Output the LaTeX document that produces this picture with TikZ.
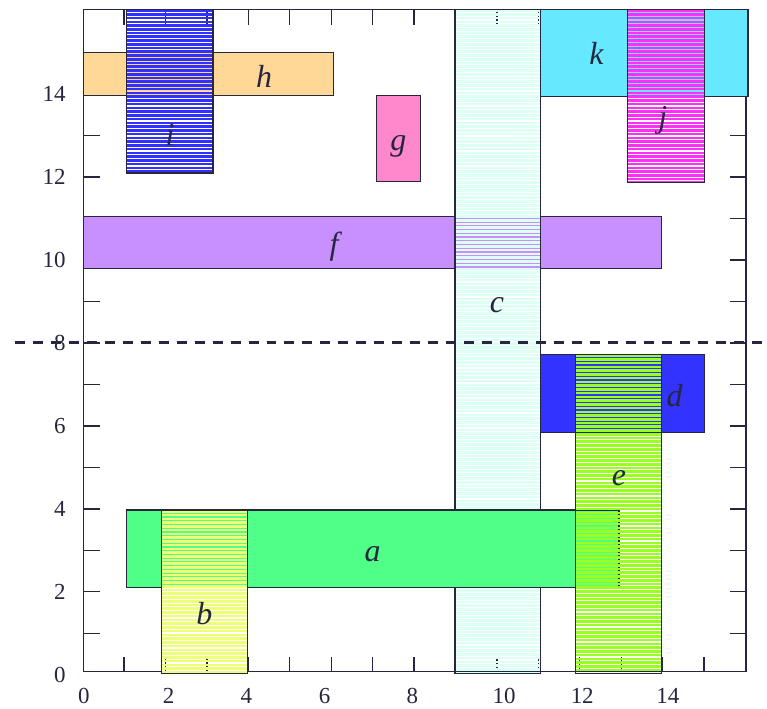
\documentclass[tikz,border=0pt]{standalone}
\usepackage{fontspec}
\setmainfont{Liberation Serif}
\definecolor{edge}{RGB}{38,38,62}
\definecolor{ch}{RGB}{255,216,152}
\definecolor{ci}{RGB}{48,48,255}
\definecolor{cg}{RGB}{255,136,204}
\definecolor{cf}{RGB}{200,144,255}
\definecolor{cc}{RGB}{222,255,244}
\definecolor{ck}{RGB}{102,232,255}
\definecolor{cj}{RGB}{255,48,245}
\definecolor{ca}{RGB}{80,255,136}
\definecolor{cb}{RGB}{238,255,119}
\definecolor{cd}{RGB}{51,51,255}
\definecolor{ce}{RGB}{153,255,34}
\tikzset{
  box/.style={draw=edge, line width=1.3pt},
  lab/.style={inner sep=0pt, text=edge, font=\fontsize{32}{32}\selectfont\itshape},
  num/.style={inner sep=0pt, text=edge, font=\fontsize{23}{23}\selectfont},
  tickline/.style={draw=edge, line width=1.3pt},
}
\newcommand{\stripebox}[5]{%
  \begin{scope}
    \clip (#1,#2) rectangle (#3,#4);
    \pgfmathtruncatemacro{\nstr}{(#4-#2)/3.75}
    \foreach \k in {0,...,\nstr}{
      \fill[#5] (#1,{#2+\k*3.75}) rectangle (#3,{#2+\k*3.75+2.6});
    }
  \end{scope}
  \draw[box] (#1,#2) rectangle (#3,#4);
}
\begin{document}
\begin{tikzpicture}[x=1pt,y=-1pt]
\fill[white] (0,0) rectangle (767,710);
% ticks
\foreach \k in {1,...,15}{
  \pgfmathsetmacro\xp{82.8+41.5*\k}
  \pgfmathsetmacro\yp{676-41.55*\k}
  \draw[tickline] (\xp,673) -- ++(0,-15);
  \draw[tickline] (\xp,9.3) -- ++(0,16);
  \draw[tickline] (83.3,\yp) -- ++(17,0);
  \draw[tickline] (747.3,\yp) -- ++(-16,0);
}
\draw[box] (83.3,9.3) rectangle (747.3,673);
% rectangles
\fill[ch, box] (83.3,52.7) rectangle (334.3,96);
\stripebox{126.7}{9.3}{213.3}{173.3}{ci}
\fill[cg, box] (377.3,95.7) rectangle (421,181.7);
\fill[cf, box] (83.3,217) rectangle (662.7,269);
\stripebox{455.7}{9.3}{541.7}{675}{cc}
\fill[ck, box] (541.7,9.3) rectangle (749.3,96.7);
\stripebox{628.3}{9.3}{706}{182.7}{cj}
\fill[ca, box] (126.7,511) rectangle (620,588.7);
\stripebox{161.7}{511}{247.7}{675}{cb}
\fill[cd, box] (541.7,355) rectangle (706,433.3);
\stripebox{576.7}{355}{662.7}{675}{ce}
% dashed line
\coordinate (dl) at (15,343.5);
\coordinate (dr) at (767,343.5);
\draw[edge, line width=2.8pt, dash pattern=on 10pt off 8pt] (dl) -- (dr);
% tick labels
\foreach \v/\yy in {0/676,2/592.9,4/509.8,6/426.7,8/343.6,10/260.5,12/177.4,14/94.3}{
  \node[num, anchor=east] (yl\v) at (66,\yy) {\v};
}
\foreach \v/\xx in {0/84,2/169,4/246.7,6/325.3,8/413,10/505,12/583.3,14/669}{
  \node[num] (xl\v) at (\xx,697.5) {\v};
}
% box labels
\node[lab] (la) at (373.3,554.7) {a};
\node[lab] (lb) at (204.7,615) {b};
\node[lab] (lc) at (497.8,306) {c};
\node[lab] (ld) at (675.8,395.8) {d};
\node[lab] (le) at (620,478.8) {e};
\node[lab] (lf) at (334.6,247.5) {f};
\node[lab] (lg) at (399,147) {g};
\node[lab] (lh) at (264.7,76.2) {h};
\node[lab] (li) at (170.3,135) {i};
\node[lab] (lj) at (664,121) {j};
\node[lab] (lk) at (597.5,53.7) {k};
\end{tikzpicture}
\end{document}
